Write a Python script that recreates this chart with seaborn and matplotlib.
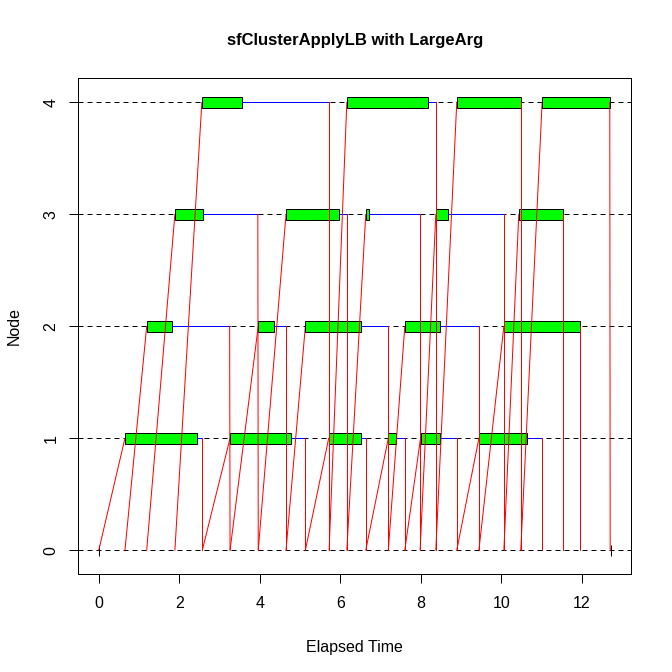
import matplotlib
matplotlib.use("Agg")
import matplotlib.pyplot as plt
import seaborn as sns
import pandas as pd

# snow timing data, one entry per task (in the order the master sent them)
task_node = [1, 2, 3, 4, 1, 2, 3, 2, 1, 4, 3, 1, 2, 1, 3, 4, 1, 2, 3, 4]
send_start = [0.00, 0.65, 1.19, 1.89, 2.57, 3.26, 3.96, 4.65, 5.13, 5.72,
              6.16, 6.63, 7.19, 7.60, 7.98, 8.37, 8.89, 9.44, 10.06, 10.48]
node_start = [0.65, 1.19, 1.89, 2.56, 3.26, 3.96, 4.65, 5.13, 5.71, 6.16,
              6.63, 7.19, 7.60, 7.99, 8.37, 8.89, 9.44, 10.06, 10.43, 11.01]
node_end = [2.43, 1.81, 2.58, 3.55, 4.77, 4.35, 5.96, 6.51, 6.51, 8.17,
            6.72, 7.39, 8.48, 8.48, 8.67, 10.48, 10.63, 11.95, 11.53, 12.69]
node_sent = [2.57, 3.25, 3.95, 5.72, 5.13, 4.65, 6.16, 7.19, 6.63, 8.37,
             7.98, 7.60, 9.44, 8.89, 10.06, 10.48, 11.01, 11.95, 11.53, 12.69]
recv_end = [2.57, 3.26, 3.96, 5.72, 5.13, 4.65, 6.16, 7.19, 6.63, 8.37,
            7.98, 7.60, 9.44, 8.89, 10.06, 10.48, 11.01, 11.95, 11.53, 12.70]
elapsed = 12.72
nodes = [1, 2, 3, 4]

sns.set_style("ticks")
plt.rcParams["font.family"] = ["Liberation Sans", "DejaVu Sans"]
plt.rcParams["axes.linewidth"] = 0.75
plt.rcParams["xtick.major.width"] = 0.75
plt.rcParams["ytick.major.width"] = 0.75
plt.rcParams["text.color"] = "black"
plt.rcParams["axes.labelcolor"] = "black"
plt.rcParams["xtick.color"] = "black"
plt.rcParams["ytick.color"] = "black"

df = pd.DataFrame({"node": task_node, "send_start": send_start,
                   "node_start": node_start, "node_end": node_end,
                   "node_sent": node_sent, "recv_end": recv_end})

fig = plt.figure(figsize=(7, 7), dpi=96)
ax = fig.add_axes([0.1165, 0.1455, 0.8232, 0.738])

w2 = 0.05
for y in range(len(nodes) + 1):
    ax.axhline(y, color="black", lw=0.75, ls=(0, (5, 4)), zorder=1)
ax.vlines([0, elapsed], -w2, w2, color="black", lw=0.75, zorder=1.5)


def seg_frame(x0, y0, x1, y1):
    rows = []
    for k, (a, b, c, d) in enumerate(zip(x0, y0, x1, y1)):
        rows.append({"seg": k, "x": a, "y": b})
        rows.append({"seg": k, "x": c, "y": d})
    return pd.DataFrame(rows)


for i in nodes:
    d = df[df["node"] == i]
    nr = len(d)
    z = 2 + i
    # master -> node sends, compute boxes, waiting, node -> master returns
    sends = seg_frame(d["send_start"], [0] * nr, d["node_start"], [i] * nr)
    sns.lineplot(data=sends, x="x", y="y", units="seg", estimator=None,
                 sort=False, color="#FF0000", lw=0.75, ax=ax, legend=False,
                 zorder=z)
    ax.barh([i] * nr, d["node_end"] - d["node_start"], left=d["node_start"],
            height=2 * w2, color="#00FF00", edgecolor="black", lw=0.75,
            zorder=z + 0.1)
    waits = seg_frame(d["node_end"], [i] * nr, d["node_sent"], [i] * nr)
    sns.lineplot(data=waits, x="x", y="y", units="seg", estimator=None,
                 sort=False, color="#0000FF", lw=0.75, ax=ax, legend=False,
                 zorder=z + 0.2)
    rets = seg_frame(d["node_sent"], [i] * nr, d["recv_end"], [0] * nr)
    sns.lineplot(data=rets, x="x", y="y", units="seg", estimator=None,
                 sort=False, color="#FF0000", lw=0.75, ax=ax, legend=False,
                 zorder=z + 0.3)

ax.set_xlim(-0.04 * elapsed, 1.04 * elapsed)
ylo, yhi = -w2, len(nodes) + w2
ax.set_ylim(ylo - 0.04 * (yhi - ylo), yhi + 0.04 * (yhi - ylo))
ax.set_xticks(range(0, 13, 2))
ax.set_yticks(range(0, 5))
ax.set_yticklabels([str(v) for v in range(0, 5)], rotation=90, va="center")
ax.tick_params(axis="both", length=7, labelsize=12, direction="out")
ax.tick_params(axis="x", pad=9)
ax.tick_params(axis="y", pad=8)
for s in ax.spines.values():
    s.set_visible(True)
    s.set_color("black")

ax.set_xlabel("Elapsed Time", fontsize=12, labelpad=22)
ax.set_ylabel("Node", fontsize=12, labelpad=16)
ax.set_title("sfClusterApplyLB with LargeArg", fontsize=12.5,
             fontweight="bold", pad=25)

fig.savefig("out.png", dpi=96, facecolor="white")
